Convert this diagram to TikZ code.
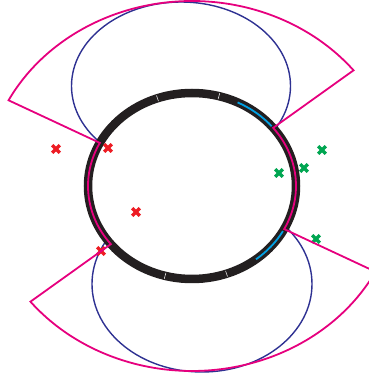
\documentclass[tikz,border=0pt]{standalone}
\usepackage{xcolor}

\definecolor{ringblack}{HTML}{231F20}
\definecolor{magpink}{HTML}{E6007E}
\definecolor{navyblue}{HTML}{2E3192}
\definecolor{skycyan}{HTML}{00A0E3}
\definecolor{markred}{HTML}{ED1C24}
\definecolor{markgreen}{HTML}{00A651}

\tikzset{
  ringline/.style={draw=ringblack, line width=8.5pt},
  magline/.style={draw=magpink, line width=1.8pt, line join=miter},
  blueline/.style={draw=navyblue, line width=1.4pt},
  cyanline/.style={draw=skycyan, line width=1.8pt},
  gapline/.style={draw=white, line width=0.5pt},
  xmark/.style={line width=3.4pt}
}

\begin{document}
\begin{tikzpicture}[x=1pt, y=1pt]
        \useasboundingbox (0,0) rectangle (369,380);
        \clip (0,0) rectangle (369,380);

        % Draw the two blue ellipses
        \draw[blueline] (181,294) ellipse [x radius=109.5, y radius=84];
        \draw[blueline] (202,96) ellipse [x radius=110, y radius=88];

        \begin{scope}[shift={(192,194)}]
            % Blank the inside of the ring
            \fill[white] (0,0) ellipse [x radius=104, y radius=93];

            % Draw the thick ring
            \draw[ringline] (0,0) ellipse [x radius=104, y radius=93];

            % Small gaps in the ring
            \foreach \a in {75,109.4,255,289.4}
                \draw[gapline] (\a:101pt and 90pt) -- (\a:107pt and 96pt);

            % Cyan arcs on the ring
            \draw[cyanline] (64:104pt and 93pt)
                arc[start angle=64, end angle=40, x radius=104, y radius=93];
            \draw[cyanline] (-29:104pt and 93pt)
                arc[start angle=-29, end angle=-52, x radius=104, y radius=93];
        \end{scope}

        % Mark the red points
        \foreach \px/\py in {56/231, 108/232, 136/168, 101/129}{
            \draw[xmark, markred] (\px-3.8,\py-3.8) -- (\px+3.8,\py+3.8);
            \draw[xmark, markred] (\px-3.8,\py+3.8) -- (\px+3.8,\py-3.8);
        }

        % Mark the green points
        \foreach \px/\py in {322/230, 304/212, 279/207, 316/141}{
            \draw[xmark, markgreen] (\px-3.8,\py-3.8) -- (\px+3.8,\py+3.8);
            \draw[xmark, markgreen] (\px-3.8,\py+3.8) -- (\px+3.8,\py-3.8);
        }

        % Draw the magenta outline
        \begin{scope}[shift={(192,194)}]
            \draw[magline] (152.4:207pt and 185pt)
                arc[start angle=152.4, end angle=38.7, x radius=207, y radius=185]
                -- (38.7:104pt and 93pt)
                arc[start angle=38.7, end angle=-27.6, x radius=104, y radius=93]
                -- (-27.6:207pt and 185pt)
                arc[start angle=-27.6, end angle=-141.3, x radius=207, y radius=185]
                -- (218.7:104pt and 93pt)
                arc[start angle=218.7, end angle=152.4, x radius=104, y radius=93]
                -- cycle;
        \end{scope}
    \end{tikzpicture}
\end{document}
